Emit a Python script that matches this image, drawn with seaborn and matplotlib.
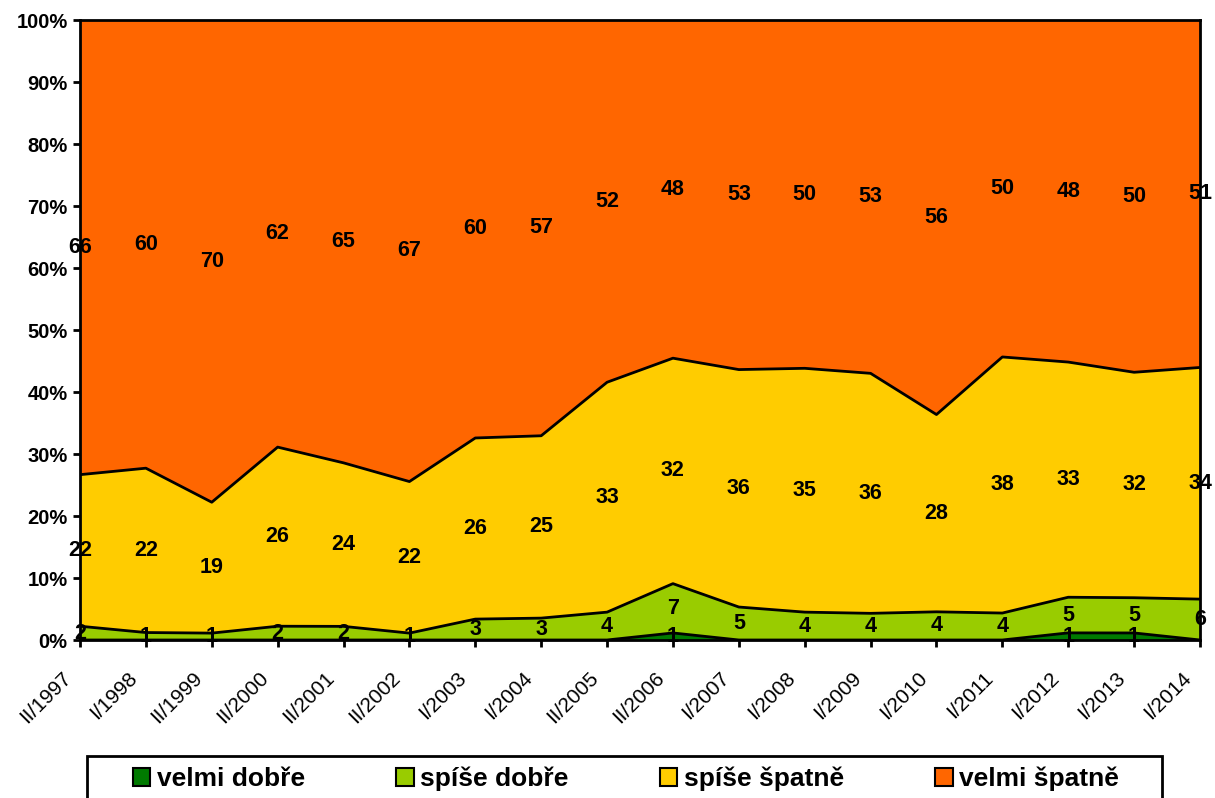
import numpy as np
import pandas as pd
import matplotlib
matplotlib.use("Agg")
import matplotlib.pyplot as plt
import seaborn as sns
from matplotlib.patches import Patch, Rectangle
from matplotlib.ticker import PercentFormatter

# data
periods = ["II/1997", "I/1998", "II/1999", "II/2000", "II/2001", "II/2002",
           "I/2003", "I/2004", "II/2005", "II/2006", "I/2007", "I/2008",
           "I/2009", "I/2010", "I/2011", "I/2012", "I/2013", "I/2014"]
velmi_dobre = [0, 0, 0, 0, 0, 0, 0, 0, 0, 1, 0, 0, 0, 0, 0, 1, 1, 0]
spise_dobre = [2, 1, 1, 2, 2, 1, 3, 3, 4, 7, 5, 4, 4, 4, 4, 5, 5, 6]
spise_spatne = [22, 22, 19, 26, 24, 22, 26, 25, 33, 32, 36, 35, 36, 28, 38, 33, 32, 34]
velmi_spatne = [66, 60, 70, 62, 65, 67, 60, 57, 52, 48, 53, 50, 53, 56, 50, 48, 50, 51]

series_names = ["velmi dobře", "spíše dobře", "spíše špatně", "velmi špatně"]
colors = ["#007A00", "#99CC00", "#FFCC00", "#FF6600"]

sns.set_theme(style="white")
plt.rcParams["font.family"] = ["Liberation Sans", "DejaVu Sans"]
plt.rcParams["text.color"] = "black"
plt.rcParams["xtick.color"] = "black"
plt.rcParams["ytick.color"] = "black"
plt.rcParams["axes.labelcolor"] = "black"

df = pd.DataFrame({
    "velmi dobře": velmi_dobre,
    "spíše dobře": spise_dobre,
    "spíše špatně": spise_spatne,
    "velmi špatně": velmi_spatne,
}, index=periods)

# normalise to 100 % per period
pct = df.div(df.sum(axis=1), axis=0) * 100
top = pct.cumsum(axis=1)
bottom = top.shift(1, axis=1).fillna(0)
x = np.arange(len(periods))

W, H = 1215, 798
fig = plt.figure(figsize=(W / 100, H / 100), dpi=100)
ax = fig.add_axes([80 / W, 1 - 640 / H, 1120 / W, 620 / H])

for name, col in zip(series_names, colors):
    ax.fill_between(x, bottom[name], top[name], color=col, linewidth=0)

for name in series_names[:-1]:
    sns.lineplot(x=x, y=top[name].values, ax=ax, color="black", linewidth=2,
                 legend=False)

# data labels in the middle of each band
for name in series_names:
    mid = (bottom[name] + top[name]) / 2
    for i, v in enumerate(df[name]):
        if v == 0:
            continue
        ax.text(x[i], mid.iloc[i], str(v), ha="center", va="center",
                fontsize=15.5, fontweight="bold", color="black", clip_on=False,
                zorder=5)

ax.set_xlim(0, len(periods) - 1)
ax.set_ylim(0, 100)
ax.set_yticks(np.arange(0, 101, 10))
ax.yaxis.set_major_formatter(PercentFormatter(decimals=0))
ax.set_xticks(x)
ax.set_xticklabels([])
# rotated period labels, set a bit left of each tick like the original
for i, p in enumerate(periods):
    ax.annotate(p, xy=(x[i], 0), xycoords=("data", "axes fraction"),
                xytext=(-12, -35), textcoords="offset pixels",
                rotation=45, ha="right", va="center", rotation_mode="anchor",
                fontsize=15, annotation_clip=False)
for lab in ax.get_yticklabels():
    lab.set_fontweight("bold")
    lab.set_fontsize(14.5)
ax.tick_params(axis="both", direction="out", length=5, width=2,
               color="black", bottom=True, left=True, pad=4)
for s in ax.spines.values():
    s.set_color("black")
    s.set_linewidth(2)
    s.set_zorder(6)
ax.grid(False)

# legend box runs off the bottom edge like in the original
fig.patches.append(Rectangle((87 / W, -0.05), (1162 - 87) / W, 0.05 + 1 - 756 / H,
                             transform=fig.transFigure, facecolor="white",
                             edgecolor="black", linewidth=2))
handles = [Patch(facecolor=c, edgecolor="black", linewidth=1.5) for c in colors]
fig.legend(handles, series_names, ncol=4, loc="center",
           bbox_to_anchor=(133 / W, 1 - 779 / H, (1119 - 133) / W, 0),
           mode="expand", frameon=False,
           prop={"weight": "bold", "size": 19},
           handlelength=0.65, handleheight=0.65, handletextpad=0.25,
           borderaxespad=0, borderpad=0)

fig.savefig("out.png", dpi=100)
